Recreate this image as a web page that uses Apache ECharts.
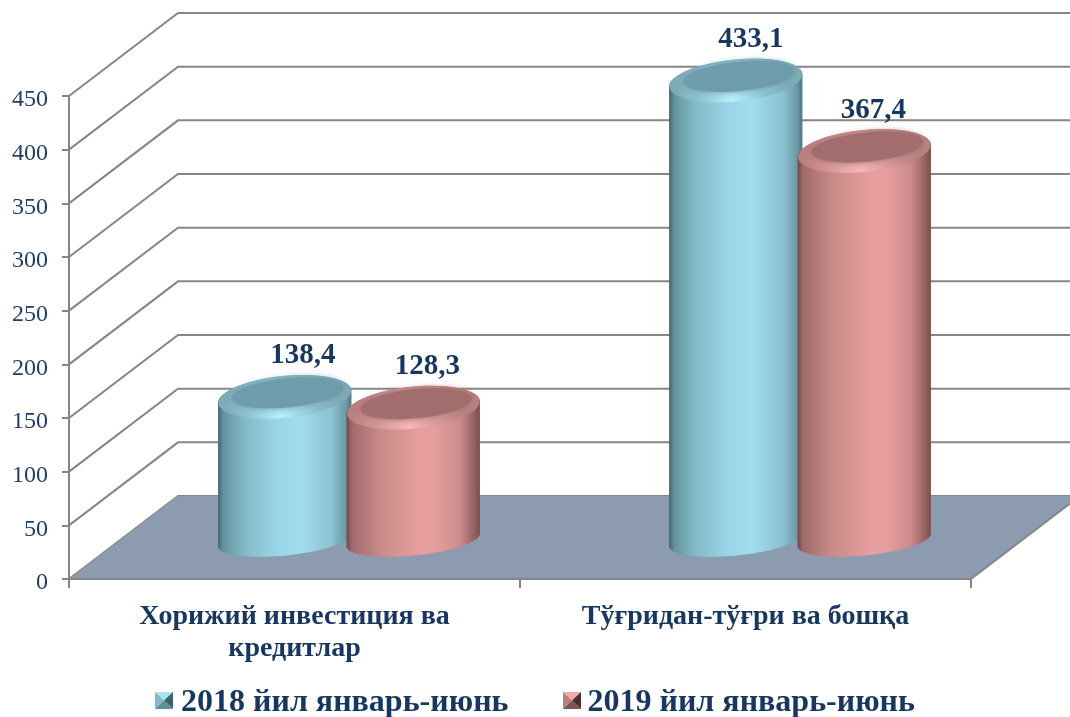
<!DOCTYPE html>
<html><head><meta charset="utf-8">
<style>html,body{margin:0;padding:0;background:#fff}#c{width:1070px;height:717px}</style>
<script src="https://cdn.jsdelivr.net/npm/echarts@6/dist/echarts.min.js"></script>
</head><body><div id="c"></div>
<script>
const categories = ['Хорижий инвестиция ва\nкредитлар', 'Тўғридан-тўғри ва бошқа'];
const seriesNames = ['2018 йил январь-июнь', '2019 йил январь-июнь'];
const values2018 = [138.4, 433.1];
const values2019 = [128.3, 367.4];
const valueLabels2018 = ['138,4', '433,1'];
const valueLabels2019 = ['128,3', '367,4'];
const yTicks = [0, 50, 100, 150, 200, 250, 300, 350, 400, 450];

const TXT = '#17375e', AX = '#868686', FONT = '"Liberation Serif","Times New Roman",serif';
const DX = 109, DY = -83, RIGHT_EDGE = 1070;
const RX = 67, TILT = -0.1;
const G = echarts.graphic;

function ell(cx, cy, rx, ry, from, to, n) {
  const c = Math.cos(TILT), s = Math.sin(TILT), pts = [];
  for (let i = 0; i <= n; i++) {
    const t = from + (to - from) * i / n;
    const x = rx * Math.cos(t), y = ry * Math.sin(t);
    pts.push([cx + x * c - y * s, cy + x * s + y * c]);
  }
  return pts;
}
const grad = stops => new G.LinearGradient(0, 0, 1, 0, stops.map(p => ({offset: p[0], color: p[1]})));

const paletteBlue = {
  body: grad([[0,'#40666f'],[.04,'#64939e'],[.2,'#84bac8'],[.45,'#9ad6e8'],[.62,'#a0dcee'],[.85,'#8cc2d2'],[.96,'#6c99a6'],[1,'#4f7580']]),
  rim: '#8cc2d0', glow: '#b8f0fb', cap: '#6f9cab',
  back: '#7eabb8', tri: ['#a8e6f4', '#82b8c6', '#3c626c', '#5f8f9b']
};
const paletteRed = {
  body: grad([[0,'#6f4646'],[.04,'#a06a6a'],[.25,'#c88a88'],[.55,'#e69f9e'],[.66,'#e69f9e'],[.85,'#cb8b8a'],[.96,'#946060'],[1,'#784f4f']]),
  rim: '#d29493', glow: '#f6b8b6', cap: '#a26e6d',
  back: '#b88180', tri: ['#f2aaa9', '#b87f7e', '#4a2f2f', '#7f5352']
};

function cylinder(pal, shift, labels, labelDx) {
  return function (params, api) {
    const i = api.value(0), v = api.value(1);
    const top = api.coord([i, v]), base = api.coord([i, 0]);
    const cx = top[0] + DX / 2 + shift;
    const topY = top[1] - 33.6, baseY = base[1] - 39;
    const body = ell(cx, topY, RX, 21, Math.PI, 2 * Math.PI, 30).concat(ell(cx, baseY, RX, 15.5, 0, Math.PI, 40));
    return {type: 'group', children: [
      {type: 'polygon', shape: {points: body}, style: {fill: pal.body}},
      {type: 'polygon', shape: {points: ell(cx, topY, RX - 0.5, 21, 0, 2 * Math.PI, 60)},
        style: {fill: new G.RadialGradient(0.47, 0.95, 1.3, [{offset: 0, color: pal.glow}, {offset: 0.6, color: pal.rim}, {offset: 1, color: pal.back}])}},
      {type: 'polygon', shape: {points: ell(cx + 3, topY - 4, RX - 11, 14.5, 0, 2 * Math.PI, 60)},
        style: {fill: pal.cap, shadowBlur: 6, shadowColor: pal.cap}},
      {type: 'text', style: {x: cx + labelDx[i], y: topY - 41, text: labels[i], align: 'center', verticalAlign: 'middle',
        fill: TXT, font: 'bold 29px ' + FONT}}
    ]};
  };
}
const labelDx2018 = [18, 15], labelDx2019 = [14, 9];

function wall(params, api) {
  const p = api.coord([0, api.value(0)]);
  const x0 = api.coord([0, 0])[0] - (api.size([1, 0])[0]) / 2;
  return {type: 'polyline', shape: {points: [[x0, p[1]], [x0 + DX, p[1] + DY], [RIGHT_EDGE, p[1] + DY]]},
    style: {stroke: AX, lineWidth: 2, fill: null}};
}
function floor(params, api) {
  const w = api.size([1, 0])[0];
  const o = api.coord([0, 0]);
  const x0 = o[0] - w / 2, x1 = x0 + 2 * w, y = o[1];
  return {type: 'group', children: [
    {type: 'polygon', shape: {points: [[x0, y], [x1, y], [x1 + DX, y + DY], [x0 + DX, y + DY]]}, style: {fill: '#8c9bb0'}},
    {type: 'line', shape: {x1: x1, y1: y, x2: x1 + DX, y2: y + DY}, style: {stroke: AX, lineWidth: 2}}
  ]};
}
function pyramid(x, y, pal) {
  const w = 18, h = 17, cx = x + w / 2, cy = y + h / 2;
  const tri = (pts, fill) => ({type: 'polygon', z: 50, silent: true, shape: {points: pts}, style: {fill}});
  return [
    tri([[x, y], [x + w, y], [cx, cy]], pal.tri[0]),
    tri([[x, y], [cx, cy], [x, y + h]], pal.tri[1]),
    tri([[x + w, y], [x + w, y + h], [cx, cy]], pal.tri[2]),
    tri([[x, y + h], [x + w, y + h], [cx, cy]], pal.tri[3])
  ];
}

const chart = echarts.init(document.getElementById('c'), null, {renderer: 'canvas'});
chart.setOption({
  animation: false,
  backgroundColor: '#fff',
  grid: {left: 69, right: 99, top: 96, bottom: 138},
  legend: {
    left: 155, top: 682, itemWidth: 18, itemHeight: 17, itemGap: 58, icon: 'rect',
    itemStyle: {color: 'rgba(0,0,0,0)'},
    data: seriesNames,
    textStyle: {fontFamily: FONT, fontWeight: 'bold', fontSize: 32, color: TXT, padding: [0, 0, 0, -2]}
  },
  graphic: pyramid(155, 692, paletteBlue).concat(pyramid(563, 692, paletteRed)),
  xAxis: {
    type: 'category', data: categories,
    axisLine: {lineStyle: {color: AX, width: 2}},
    axisTick: {show: true, length: 9, lineStyle: {color: AX, width: 2}},
    axisLabel: {interval: 0, margin: 22, lineHeight: 32, fontFamily: FONT, fontWeight: 'bold', fontSize: 28, color: TXT},
    z: 5
  },
  yAxis: {
    type: 'value', min: 0, max: 450, interval: 50,
    axisLine: {show: true, lineStyle: {color: AX, width: 2}},
    axisTick: {show: true, length: 7, lineStyle: {color: AX, width: 2}},
    axisLabel: {margin: 21, verticalAlign: 'top', lineHeight: 8, fontFamily: FONT, fontSize: 24, color: '#1f3d66'},
    splitLine: {show: false}
  },
  series: [
    {type: 'custom', silent: true, z: 1, clip: false, renderItem: wall, encode: {y: 0}, data: yTicks.map(t => [t])},
    {type: 'custom', silent: true, z: 2, clip: false, renderItem: floor, data: [[0]]},
    {type: 'custom', name: seriesNames[0], z: 3, clip: false, silent: true, itemStyle: {color: paletteBlue.tri[1]},
      renderItem: cylinder(paletteBlue, -64.25, valueLabels2018, labelDx2018), encode: {x: 0, y: 1},
      data: values2018.map((v, i) => [i, v])},
    {type: 'custom', name: seriesNames[1], z: 4, clip: false, silent: true, itemStyle: {color: paletteRed.tri[1]},
      renderItem: cylinder(paletteRed, 64.25, valueLabels2019, labelDx2019), encode: {x: 0, y: 1},
      data: values2019.map((v, i) => [i, v])}
  ]
});
</script></body></html>
